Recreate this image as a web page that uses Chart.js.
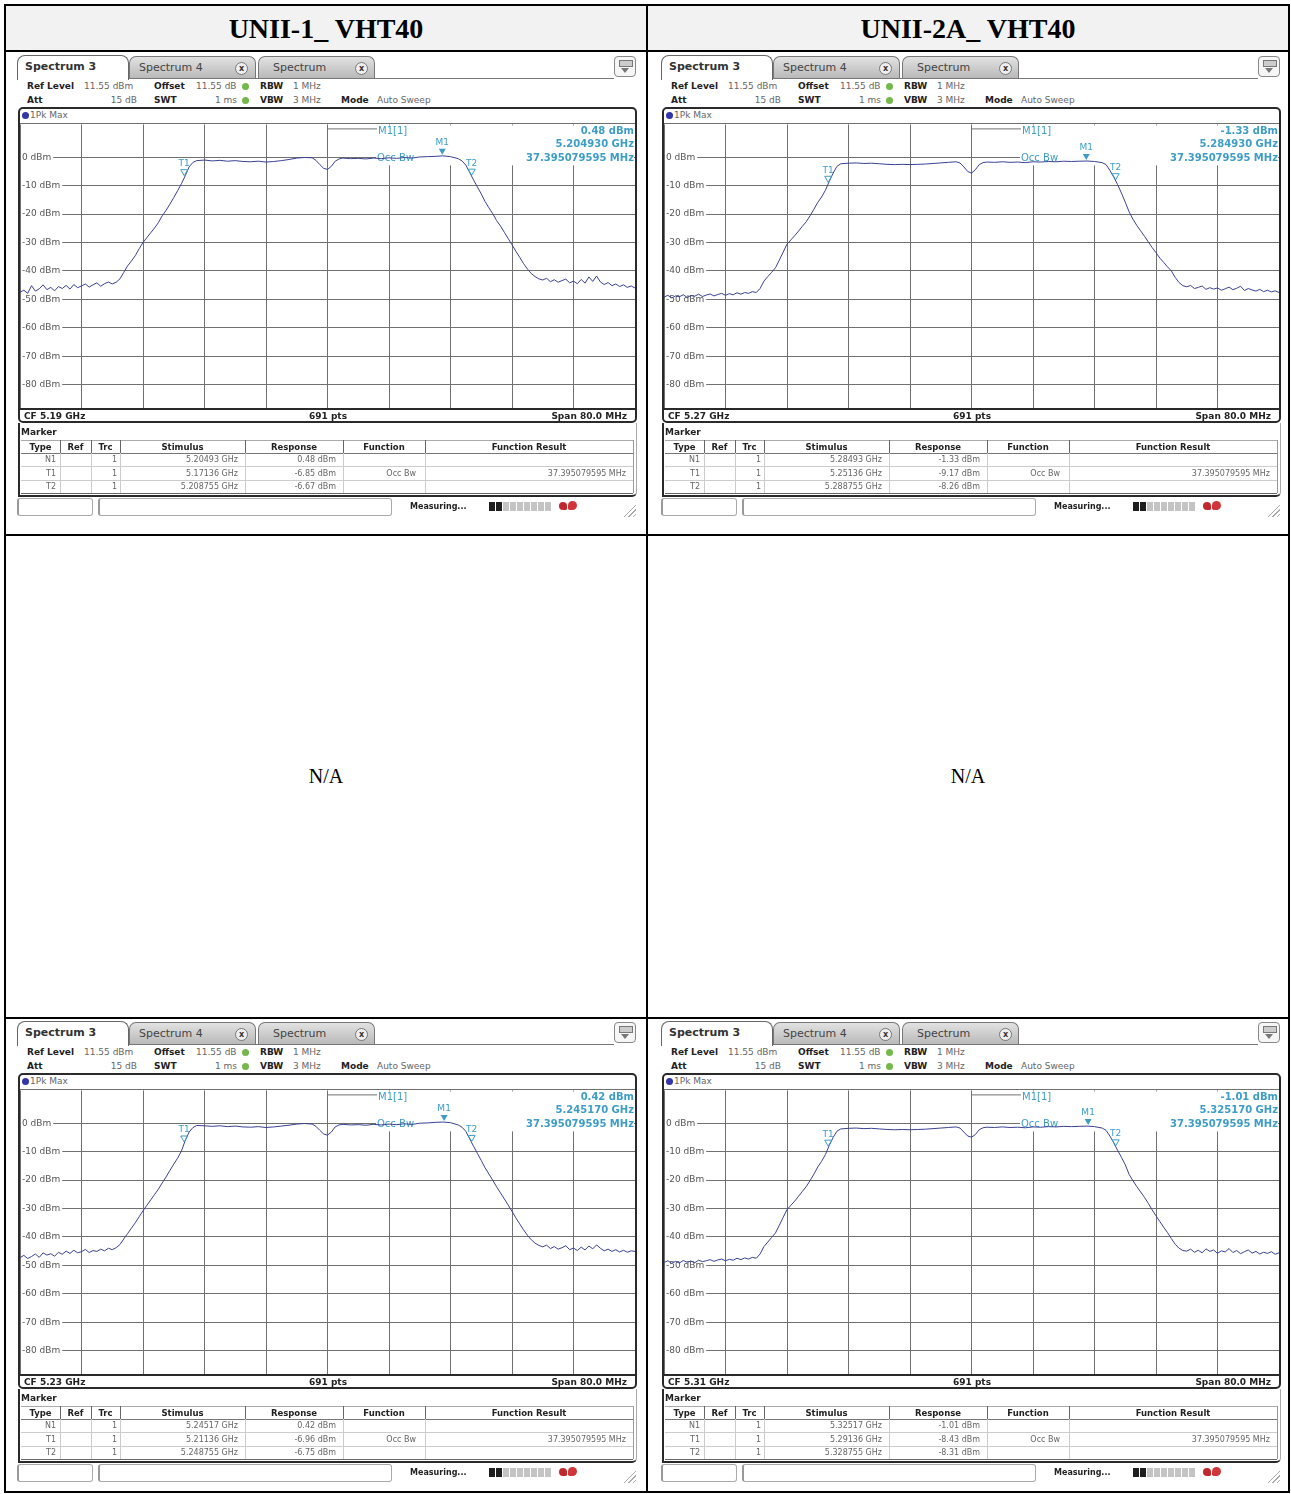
<!DOCTYPE html>
<html>
<head>
<meta charset="utf-8">
<title>UNII VHT40 Occupied Bandwidth</title>
<script src="https://cdn.jsdelivr.net/npm/chart.js"></script>
<style>
  body { margin: 0; background: #fff; }
  #page { position: relative; width: 1291px; height: 1494px; overflow: hidden;
          font-family: "DejaVu Sans", Verdana, sans-serif; color: #222; }
  .t { white-space: nowrap; font-size: 9px; line-height: 12px; }
  .b { font-weight: bold; }
  .g { color: #666; }
  .serif { font-family: "Liberation Serif", "Times New Roman", serif; color: #000; text-align: center; }
</style>
</head>
<body>
<div id="page"></div>
<script>
// ---------- data ----------
const bandTitles = ['UNII-1_ VHT40', 'UNII-2A_ VHT40'];
const centerFreqs = [5.19, 5.27, 5.23, 5.31];          // GHz, one per screen
const refLevel = 11.55;                                // dBm, top of the grid
const levelTicks = [0, -10, -20, -30, -40, -50, -60, -70, -80];
const occBwText = '37.395079595 MHz';

// sweep sample positions in MHz relative to the centre frequency
const sweepOffsets = [
  -40, -39.5, -39, -38.5, -38, -37.5, -37, -36.5, -36, -35.5, -35, -34.5, -34,
  -33.5, -33, -32.5, -32, -31.5, -31, -30.5, -30, -29.5, -29, -28.5, -28,
  -27.5, -27, -26.5, -26, -25.5, -25, -24.5, -24, -23.5, -23, -22.5, -22,
  -21.5, -21, -20.5, -20, -19.5, -19, -18.5, -18, -17.5,
  -17, -16, -15, -14, -13, -12, -11, -10, -9, -8, -7, -6, -5, -4, -3, -2,
  -1.5, -1, -0.5, 0, 0.5, 1, 1.5,
  2, 3, 4, 5, 6, 7, 8, 9, 10, 11, 12, 13, 14, 15, 16, 17,
  17.5, 18, 18.5, 19, 19.5, 20, 20.5, 21, 21.5, 22, 22.5, 23, 23.5, 24,
  24.5, 25, 25.5, 26, 26.5, 27, 27.5,
  28, 28.5, 29, 29.5, 30, 30.5, 31, 31.5, 32, 32.5, 33, 33.5, 34, 34.5, 35,
  35.5, 36, 36.5, 37, 37.5, 38, 38.5, 39, 39.5, 40
];

// 1Pk Max trace levels (dBm) at each sweep offset
const traceCf519 = [
  -47.5, -46.8, -47.9, -45.2, -47.1, -46.3, -44.9, -46.6, -45.8, -47.0, -45.5, -46.2, -45.1,
  -46.4, -44.8, -45.9, -45.3, -44.6, -45.7, -44.9, -44.2, -45.4, -44.5, -43.9, -44.6,
  -44.0, -42.8, -40.5, -38.2, -36.5, -34.6, -32.2, -30.0, -28.3, -26.6, -24.9, -23.0,
  -20.6, -18.7, -16.5, -14.2, -11.8, -9.3, -6.5, -3.4, -1.8,
  -1.2, -1.0, -1.3, -1.1, -1.4, -1.2, -1.5, -1.6, -1.4, -1.7, -1.5, -1.2, -0.8, -0.3, -0.1, -0.2,
  -1.1, -2.6, -3.9, -4.3, -3.2, -1.4, -0.6,
  -0.3, -0.5, -0.4, -0.6, -0.3, -0.5, -0.2, -0.4, -0.1, -0.3, 0.1, 0.2, 0.3, 0.48, 0.2, -0.5,
  -1.3, -2.8, -5.4, -8.0, -10.5, -12.9, -15.6, -17.8, -19.9, -22.3, -24.2, -26.4, -28.6, -30.8,
  -33.1, -35.2, -37.4, -39.3, -40.9, -42.0, -42.8,
  -43.2, -42.6, -43.8, -43.1, -44.0, -43.4, -42.9, -44.2, -43.6, -44.5, -43.0, -44.3, -42.1,
  -43.7, -41.8, -43.9, -44.8, -44.1, -45.2, -44.6, -45.5, -44.9, -45.8, -45.3, -46.0
];
const traceCf527 = [
  -49.2, -48.6, -49.5, -48.8, -49.1, -48.4, -49.3, -48.7, -48.9, -48.2, -49.0, -48.5, -48.1,
  -48.8, -48.3, -47.9, -48.6, -48.0, -48.4, -47.7, -48.2, -47.6, -47.9, -47.3, -47.6,
  -46.2, -43.6, -42.0, -40.5, -38.9, -36.2, -33.4, -30.6, -29.1, -27.6, -26.0, -24.3,
  -22.7, -20.6, -18.3, -15.9, -14.0, -11.6, -8.5, -5.6, -3.2,
  -2.3, -2.1, -2.0, -2.2, -2.1, -2.3, -2.5, -2.6, -2.5, -2.6, -2.5, -2.4, -2.2, -2.0, -1.8, -1.6,
  -2.0, -3.4, -5.0, -5.6, -4.4, -2.6, -1.9,
  -1.7, -1.8, -1.6, -1.8, -1.7, -1.9, -1.6, -1.7, -1.5, -1.6, -1.4, -1.5, -1.4, -1.33, -1.5, -1.9,
  -2.6, -4.6, -7.0, -9.6, -12.6, -15.8, -19.2, -21.8, -24.0, -25.9, -27.8, -29.8, -31.8, -33.6,
  -35.5, -37.0, -38.6, -40.0, -42.3, -44.1, -45.2,
  -45.6, -45.1, -46.2, -45.8, -45.3, -46.5, -45.9, -46.4, -46.0, -46.8, -46.3, -45.7, -46.6,
  -46.1, -45.4, -46.9, -46.2, -46.7, -47.1, -46.5, -47.3, -46.8, -47.4, -47.0, -47.6
];
const traceCf523 = [
  -47.3, -46.5, -47.6, -46.9, -46.0, -47.2, -45.6, -46.4, -45.9, -46.8, -45.4, -46.1, -45.0,
  -45.8, -44.7, -45.6, -45.2, -44.4, -45.5, -44.8, -45.1, -44.3, -44.9, -44.0, -44.5,
  -43.8, -42.7, -40.7, -38.8, -36.9, -35.0, -32.9, -30.8, -28.9, -27.0, -25.1, -23.2,
  -21.0, -18.9, -16.6, -14.4, -12.3, -9.8, -6.0, -3.1, -1.5,
  -0.8, -0.9, -1.1, -0.9, -1.2, -1.0, -1.3, -1.4, -1.2, -1.5, -1.3, -1.0, -0.7, -0.3, -0.1, -0.3,
  -1.1, -2.5, -3.8, -4.2, -3.1, -1.3, -0.6,
  -0.4, -0.6, -0.5, -0.7, -0.4, -0.6, -0.3, -0.5, -0.2, -0.4, 0.0, 0.1, 0.3, 0.42, 0.2, -0.6,
  -1.4, -2.9, -5.5, -8.1, -10.6, -13.1, -15.7, -17.9, -20.1, -22.4, -24.5, -26.6, -28.8, -31.0,
  -33.3, -35.4, -37.5, -39.4, -41.0, -42.2, -43.0,
  -43.5, -42.9, -44.1, -43.4, -44.3, -43.8, -43.1, -44.5, -43.9, -44.8, -43.6, -44.6, -43.2,
  -44.2, -42.8, -44.0, -44.9, -44.3, -45.1, -44.5, -45.3, -44.7, -45.4, -44.9, -45.1
];
const traceCf531 = [
  -49.0, -48.4, -49.3, -48.6, -49.2, -48.3, -48.9, -48.5, -49.1, -48.2, -48.7, -48.4, -48.0,
  -48.6, -48.1, -47.8, -48.4, -47.9, -48.2, -47.5, -48.0, -47.4, -47.8, -47.2, -47.5,
  -46.0, -43.4, -41.8, -40.2, -38.6, -35.9, -33.1, -30.4, -28.9, -27.4, -25.7, -24.0,
  -22.3, -20.2, -17.9, -15.4, -13.4, -11.0, -7.8, -5.0, -2.8,
  -2.0, -1.8, -1.7, -1.9, -1.8, -2.0, -2.2, -2.3, -2.2, -2.3, -2.2, -2.1, -1.9, -1.7, -1.5, -1.3,
  -1.7, -3.1, -4.5, -4.9, -4.0, -2.3, -1.6,
  -1.4, -1.5, -1.3, -1.5, -1.4, -1.6, -1.3, -1.4, -1.2, -1.3, -1.1, -1.2, -1.1, -1.01, -1.2, -1.7,
  -2.5, -4.5, -6.9, -9.5, -12.0, -14.6, -18.0, -20.2, -22.3, -24.2, -26.1, -28.2, -30.5, -32.6,
  -34.6, -36.6, -38.5, -40.6, -42.6, -44.0, -44.8,
  -45.0, -44.3, -45.4, -44.7, -45.6, -44.2, -45.1, -44.6, -45.8, -44.9, -45.3, -44.1, -45.5,
  -44.8, -45.9, -45.2, -44.6, -45.7, -45.1, -46.0, -45.4, -45.8, -45.2, -46.1, -45.6
];
const traces = [traceCf519, traceCf527, traceCf523, traceCf531];

// marker table: stimulus (GHz) and response (dBm)
const m1Stim = [5.20493, 5.28493, 5.24517, 5.32517];
const m1Resp = [0.48, -1.33, 0.42, -1.01];
const t1Stim = [5.17136, 5.25136, 5.21136, 5.29136];
const t1Resp = [-6.85, -9.17, -6.96, -8.43];
const t2Stim = [5.208755, 5.288755, 5.248755, 5.328755];
const t2Resp = [-6.67, -8.26, -6.75, -8.31];

// ---------- styling ----------
const TEAL = '#3d9dc7';
const TRACE = '#3a4193';
const GRID = '#707070';
const FONT = '"DejaVu Sans", Verdana, sans-serif';
const PLOT_W = 615, PLOT_H = 284;

const page = document.getElementById('page');

function box(parent, css, text, cls) {
  const d = document.createElement('div');
  d.style.cssText = 'position:absolute;' + css;
  if (cls) d.className = cls;
  if (text !== undefined) d.textContent = text;
  parent.appendChild(d);
  return d;
}

// ---------- outer report table ----------
box(page, 'left:6px;top:6px;width:1282px;height:44px;background:#f2f2f2;');
box(page, 'left:4px;top:4px;width:1282px;height:1485px;border:2px solid #000;');
box(page, 'left:6px;top:50px;width:1282px;height:2px;background:#000;');
box(page, 'left:6px;top:534px;width:1282px;height:2px;background:#000;');
box(page, 'left:6px;top:1017px;width:1282px;height:2px;background:#000;');
box(page, 'left:646px;top:6px;width:2px;height:1487px;background:#000;');
bandTitles.forEach((title, i) => {
  box(page, `left:${6 + i * 642}px;top:6px;width:640px;height:44px;line-height:46px;font-size:28px;font-weight:bold;`, title, 'serif');
  box(page, `left:${6 + i * 642}px;top:536px;width:640px;height:481px;line-height:481px;font-size:20px;`, 'N/A', 'serif');
});

// ---------- chart plugin: marker readout and marker symbols ----------
const markerPlugin = {
  id: 'markerInfo',
  beforeDatasetsDraw(chart, args, opts) {
    const { ctx, chartArea: a, scales: { x } } = chart;
    ctx.save();
    // the readout block hides the grid in the upper right corner
    ctx.fillStyle = '#fff';
    ctx.fillRect(a.left + 356, a.top + 1, a.right - a.left - 357, 40);
    ctx.strokeStyle = GRID;
    ctx.lineWidth = 1;
    ctx.beginPath();
    ctx.moveTo(x.getPixelForValue(0), a.top + 4.5);
    ctx.lineTo(a.left + 357, a.top + 4.5);
    ctx.stroke();
    ctx.fillStyle = TEAL;
    ctx.textBaseline = 'middle';
    ctx.font = '10px ' + FONT;
    ctx.textAlign = 'left';
    ctx.fillText('M1[1]', a.left + 358, a.top + 7);
    ctx.fillText('Occ Bw', a.left + 357, a.top + 34);
    ctx.font = 'bold 10px ' + FONT;
    ctx.textAlign = 'right';
    ctx.fillText(opts.level, a.right - 1, a.top + 7);
    ctx.fillText(opts.freq, a.right - 1, a.top + 20);
    ctx.fillText(occBwText, a.right - 1, a.top + 34);
    ctx.restore();
  },
  afterDatasetsDraw(chart, args, opts) {
    const { ctx, scales: { x, y } } = chart;
    ctx.save();
    ctx.font = '9px ' + FONT;
    ctx.textAlign = 'center';
    ctx.textBaseline = 'middle';
    opts.markers.forEach(m => {
      const px = x.getPixelForValue(m.x);
      const py = y.getPixelForValue(m.y) - 1;
      ctx.beginPath();
      ctx.moveTo(px, py);
      ctx.lineTo(px - 3.5, py - 6);
      ctx.lineTo(px + 3.5, py - 6);
      ctx.closePath();
      ctx.strokeStyle = TEAL;
      ctx.fillStyle = TEAL;
      ctx.lineWidth = 1;
      if (m.filled) ctx.fill(); else ctx.stroke();
      ctx.fillText(m.name, px, py - 12);
    });
    ctx.restore();
  }
};

function chartConfig(idx) {
  const cf = centerFreqs[idx];
  const levels = traces[idx];
  const points = sweepOffsets.map((off, i) => ({ x: off, y: levels[i] }));
  const mhz = f => (f - cf) * 1000;
  return {
    type: 'line',
    data: {
      datasets: [{
        data: points,
        borderColor: TRACE,
        borderWidth: 1,
        pointRadius: 0,
        tension: 0
      }]
    },
    options: {
      responsive: false,
      maintainAspectRatio: false,
      animation: false,
      events: [],
      layout: { padding: 0 },
      plugins: {
        legend: { display: false },
        tooltip: { enabled: false },
        markerInfo: {
          level: m1Resp[idx].toFixed(2) + ' dBm',
          freq: m1Stim[idx].toFixed(6) + ' GHz',
          markers: [
            { name: 'M1', x: mhz(m1Stim[idx]), y: m1Resp[idx], filled: true },
            { name: 'T1', x: mhz(t1Stim[idx]), y: t1Resp[idx], filled: false },
            { name: 'T2', x: mhz(t2Stim[idx]), y: t2Resp[idx], filled: false }
          ]
        }
      },
      scales: {
        x: {
          type: 'linear', min: -40, max: 40,
          ticks: { display: false, stepSize: 8 },
          grid: { color: GRID, lineWidth: 1, drawTicks: false },
          border: { display: false }
        },
        y: {
          min: refLevel - 100, max: refLevel,
          afterBuildTicks: axis => { axis.ticks = levelTicks.map(v => ({ value: v })); },
          ticks: {
            mirror: true, padding: 2, color: '#555',
            font: { size: 9, family: FONT },
            callback: v => v + ' dBm',
            showLabelBackdrop: true, backdropColor: '#fff',
            backdropPadding: { top: 0, bottom: 0, left: 1, right: 2 }
          },
          grid: { color: GRID, lineWidth: 1, drawTicks: false },
          border: { display: false }
        }
      }
    },
    plugins: [markerPlugin]
  };
}

function makeChart(holder, idx) {
  // first pass measures the space the y labels take around the plot area
  const probe = document.createElement('canvas');
  probe.width = PLOT_W + 60;
  probe.height = PLOT_H + 60;
  holder.appendChild(probe);
  const test = new Chart(probe, chartConfig(idx));
  const a = test.chartArea;
  const ml = a.left, mt = a.top;
  const mr = test.width - a.right, mb = test.height - a.bottom;
  test.destroy();
  holder.removeChild(probe);

  const canvas = document.createElement('canvas');
  canvas.width = Math.round(PLOT_W + ml + mr);
  canvas.height = Math.round(PLOT_H + mt + mb);
  holder.style.left = (4 - ml) + 'px';
  holder.style.top = (69 - mt) + 'px';
  holder.appendChild(canvas);
  return new Chart(canvas, chartConfig(idx));
}

// ---------- one analyzer screen ----------
function tabCloser(parent, left) {
  box(parent, `left:${left}px;top:5px;width:11px;height:11px;border-radius:50%;border:1px solid #777;background:#eee;font-size:8px;line-height:11px;text-align:center;color:#333;font-weight:bold;`, 'x');
}

function buildPanel(idx, left, top) {
  const cf = centerFreqs[idx];
  const p = box(page, `left:${left}px;top:${top}px;width:625px;height:466px;background:#fff;`);

  // tabs
  box(p, 'left:112px;top:23px;width:486px;height:1px;background:#777;');
  const t2 = box(p, 'left:113px;top:1px;width:127px;height:22px;border:1px solid #777;border-bottom:none;border-radius:7px 7px 0 0;background:linear-gradient(#e2e2e2,#b9b9b9);box-sizing:border-box;');
  box(t2, 'left:9px;top:5px;font-size:11px;color:#444;', 'Spectrum 4', 't');
  tabCloser(t2, 105);
  const t3 = box(p, 'left:242px;top:1px;width:117px;height:22px;border:1px solid #777;border-bottom:none;border-radius:7px 7px 0 0;background:linear-gradient(#e2e2e2,#b9b9b9);box-sizing:border-box;');
  box(t3, 'left:14px;top:5px;font-size:11px;color:#444;', 'Spectrum', 't');
  tabCloser(t3, 96);
  const t1 = box(p, 'left:1px;top:0px;width:112px;height:25px;border:1px solid #666;border-bottom:none;border-radius:8px 8px 0 0;background:#fff;box-sizing:border-box;');
  box(t1, 'left:7px;top:5px;font-size:11px;font-weight:bold;color:#333;', 'Spectrum 3', 't');
  const ic = box(p, 'left:598px;top:1px;width:22px;height:21px;border:1px solid #888;border-radius:4px;box-sizing:border-box;background:#f6f6f6;');
  box(ic, 'left:4px;top:3px;width:12px;height:5px;border:1px solid #777;background:#ccc;');
  box(ic, 'left:6px;top:11px;width:0;height:0;border-left:4px solid transparent;border-right:4px solid transparent;border-top:5px solid #777;');

  // setting lines
  const info = [
    [11, 25, 'Ref Level', true], [68, 25, '11.55 dBm'], [138, 25, 'Offset', true],
    [180, 25, '11.55 dB'], [244, 25, 'RBW', true], [277, 25, '1 MHz'],
    [11, 39, 'Att', true], [138, 39, 'SWT', true], [244, 39, 'VBW', true],
    [277, 39, '3 MHz'], [325, 39, 'Mode', true], [361, 39, 'Auto Sweep']
  ];
  info.forEach(([x, y, s, bold]) => box(p, `left:${x}px;top:${y}px;`, s, bold ? 't b' : 't g'));
  box(p, 'left:61px;top:39px;width:60px;text-align:right;', '15 dB', 't g');
  box(p, 'left:165px;top:39px;width:56px;text-align:right;', '1 ms', 't g');
  box(p, 'left:226px;top:28px;width:7px;height:7px;border-radius:50%;background:#74b84a;');
  box(p, 'left:226px;top:42px;width:7px;height:7px;border-radius:50%;background:#74b84a;');

  // diagram frame
  box(p, 'left:2px;top:52px;width:619px;height:316px;border:2px solid #2a2a2a;border-radius:5px;box-sizing:border-box;');
  box(p, 'left:6px;top:57px;width:7px;height:7px;border-radius:50%;background:#3236a8;');
  box(p, 'left:14px;top:54px;', '1Pk Max', 't g');
  box(p, 'left:4px;top:68px;width:615px;height:1px;background:' + GRID + ';');
  const holder = box(p, 'left:4px;top:69px;');
  box(p, 'left:4px;top:353px;width:615px;height:2px;background:#2a2a2a;');
  box(p, 'left:8px;top:355px;', 'CF ' + cf + ' GHz', 't b');
  box(p, 'left:262px;top:355px;width:100px;text-align:center;', '691 pts', 't b');
  box(p, 'left:511px;top:355px;width:100px;text-align:right;', 'Span 80.0 MHz', 't b');

  // marker table
  box(p, 'left:2px;top:368px;width:619px;height:74px;border-left:2px solid #2a2a2a;border-bottom:2px solid #2a2a2a;border-right:1px solid #aaa;border-radius:0 0 5px 0;box-sizing:border-box;');
  box(p, 'left:5px;top:371px;', 'Marker', 't b');
  const cols = [5, 44, 75, 104, 229, 327, 409, 617];
  box(p, 'left:5px;top:385px;width:612px;height:1px;background:#aaa;');
  box(p, 'left:5px;top:398px;width:612px;height:1px;background:#777;');
  box(p, 'left:5px;top:411px;width:612px;height:1px;background:#ccc;');
  box(p, 'left:5px;top:425px;width:612px;height:1px;background:#ccc;');
  box(p, 'left:5px;top:438px;width:612px;height:1px;background:#666;');
  cols.slice(1, 7).forEach(c => {
    box(p, `left:${c}px;top:385px;width:1px;height:13px;background:#666;`);
    box(p, `left:${c}px;top:398px;width:1px;height:40px;background:#ccc;`);
  });
  box(p, 'left:617px;top:385px;width:1px;height:53px;background:#999;');
  ['Type', 'Ref', 'Trc', 'Stimulus', 'Response', 'Function', 'Function Result'].forEach((h, i) => {
    box(p, `left:${cols[i]}px;top:386px;width:${cols[i + 1] - cols[i]}px;text-align:center;font-size:8.5px;`, h, 't b');
  });
  const rows = [
    ['N1', m1Stim[idx], m1Resp[idx], '', ''],
    ['T1', t1Stim[idx], t1Resp[idx], 'Occ Bw', occBwText],
    ['T2', t2Stim[idx], t2Resp[idx], '', '']
  ];
  rows.forEach((r, i) => {
    const y = 399 + i * 13.5;
    const cell = (l, w, s) => box(p, `left:${l}px;top:${y}px;width:${w}px;text-align:right;font-size:8px;`, s, 't g');
    cell(5, 35, r[0]);
    cell(75, 26, '1');
    cell(104, 118, r[1] + ' GHz');
    cell(229, 91, r[2].toFixed(2) + ' dBm');
    cell(327, 73, r[3]);
    cell(409, 201, r[4]);
  });

  // status bar
  box(p, 'left:1px;top:443px;width:76px;height:18px;border:1px solid #aaa;border-left:2px solid #999;border-radius:3px;box-sizing:border-box;');
  box(p, 'left:82px;top:443px;width:294px;height:18px;border:1px solid #aaa;border-left:2px solid #999;border-radius:3px;box-sizing:border-box;');
  box(p, 'left:394px;top:446px;font-size:8px;', 'Measuring...', 't b');
  for (let s = 0; s < 9; s++) {
    box(p, `left:${473 + s * 7}px;top:447px;width:6px;height:9px;background:${s < 2 ? '#1e1e1e' : '#c4c4c4'};`);
  }
  box(p, 'left:543px;top:447px;width:8px;height:8px;border-radius:50% 50% 20% 50%;background:#c0282d;');
  box(p, 'left:552px;top:446px;width:9px;height:9px;border-radius:50% 50% 50% 20%;background:#d0353a;');
  box(p, 'left:606px;top:448px;width:14px;height:14px;background:repeating-linear-gradient(135deg,#fff 0 2px,#aaa 2px 3px);clip-path:polygon(100% 0,100% 100%,0 100%);');

  makeChart(holder, idx);
}

buildPanel(0, 16, 55);
buildPanel(1, 660, 55);
buildPanel(2, 16, 1021);
buildPanel(3, 660, 1021);
</script>
</body>
</html>
